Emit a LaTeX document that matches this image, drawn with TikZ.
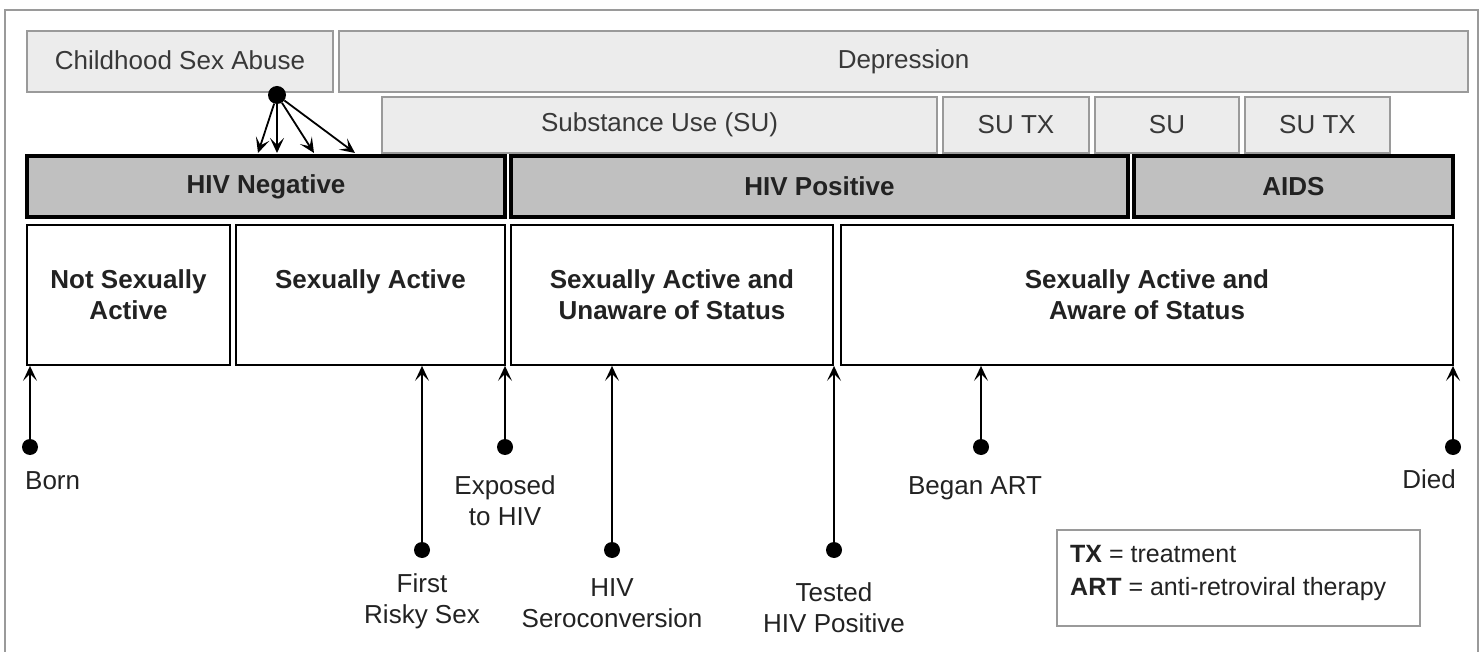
\documentclass[tikz,border=0pt]{standalone}
\usepackage{fontspec}
\setmainfont{Liberation Sans}
\usetikzlibrary{arrows.meta}
\definecolor{shade}{HTML}{ECECEC}
\definecolor{shadeline}{HTML}{9A9A9A}
\definecolor{statusfill}{HTML}{C0C0C0}
\definecolor{ink}{HTML}{222222}
\begin{document}
\begin{tikzpicture}[x=1pt,y=-1pt,
  every node/.style={font=\fontsize{26}{31}\selectfont, text=ink, inner sep=0pt},
  factor/.style={draw=shadeline, line width=1.5pt, fill=shade, text=ink!90},
  status/.style={draw=black, line width=3.5pt, fill=statusfill, font=\fontsize{26}{31}\selectfont\bfseries, minimum height=61},
  phase/.style={draw=black, line width=1.8pt, fill=white, minimum height=140, align=center, font=\fontsize{26}{31}\selectfont\bfseries},
  event/.style={circle, fill=black, minimum size=16pt},
  evlabel/.style={align=center},
  barb/.style={-{Stealth[length=15pt,width=14pt,inset=7pt]}},
  rise/.style={line width=2pt, barb},
]
\useasboundingbox (0,0) rectangle (1484,652);
% frame
\draw[shadeline, line width=1.5pt] (5,10) rectangle (1478,670);

% risk factors
\node[factor, minimum width=306, minimum height=61] (csa) at (180,61.5) {\raisebox{2pt}{Childhood Sex Abuse}};
\node[factor, minimum width=1129, minimum height=61] (dep) at (903.5,61.5) {\raisebox{2pt}{Depression}};
\node[factor, minimum width=555, minimum height=56] (su) at (659.5,125) {Substance Use (SU)};
\node[factor, minimum width=146, minimum height=56] (sutxa) at (1016,125) {SU TX};
\node[factor, minimum width=144, minimum height=56] (sub) at (1167,125) {SU};
\node[factor, minimum width=145, minimum height=56] (sutxb) at (1317.5,125) {SU TX};

% HIV status
\node[status, minimum width=478] (neg) at (266,186.5) {HIV Negative};
\node[status, minimum width=617] (pos) at (819.5,186.5) {HIV Positive};
\node[status, minimum width=319] (aids) at (1293.5,186.5) {AIDS};

% behaviour phases
\node[phase, minimum width=203] (nsa) at (128.5,295) {Not Sexually\\Active};
\node[phase, minimum width=269] (sa) at (370.5,295) {Sexually Active\\\mbox{}};
\node[phase, minimum width=322] (sau) at (672,295) {Sexually Active and\\Unaware of Status};
\node[phase, minimum width=612] (saa) at (1147,295) {Sexually Active and\\Aware of Status};

% childhood abuse effects
\node[event, minimum size=18pt] (abuse) at (277,95) {};
\coordinate (ha) at (258,153);
\coordinate (hb) at (277,153);
\coordinate (hc) at (314,153);
\coordinate (hd) at (355,153);
\foreach \t in {ha,hb,hc,hd}
  \draw[line width=1.8pt, barb] (abuse) -- (\t);

% life events
\node[event] (born) at (30,447) {};
\node[event] (risky) at (422,550) {};
\node[event] (exposed) at (505,447) {};
\node[event] (sero) at (612,550) {};
\node[event] (tested) at (834,550) {};
\node[event] (art) at (981,447) {};
\node[event] (died) at (1453,447) {};

\foreach \e in {born,risky,exposed,sero,tested,art,died}
  \draw[rise] (\e) -- (\e |- nsa.south);

\node[evlabel, anchor=west] (bornl) at (25,481) {Born};
\node[evlabel] (riskyl) at (422,601) {First\\Risky Sex};
\node[evlabel] (exposedl) at (505,501) {Exposed\\to HIV};
\node[evlabel] (serol) at (612,603) {HIV\\Seroconversion};
\node[evlabel] (testedl) at (834,608) {Tested\\HIV Positive};
\node[evlabel] (artl) at (975,488) {Began ART};
\node[evlabel, anchor=east] (diedl) at (1456,479) {Died};

% legend
\node[draw=shadeline, line width=1.5pt, minimum width=363, minimum height=96] (legend) at (1238.5,578) {};
\node[align=left, anchor=west, font=\fontsize{25}{33}\selectfont] (legendtext) at (1070,573)
  {\textbf{TX} = treatment\\\textbf{ART} = anti-retroviral therapy};
\end{tikzpicture}
\end{document}
